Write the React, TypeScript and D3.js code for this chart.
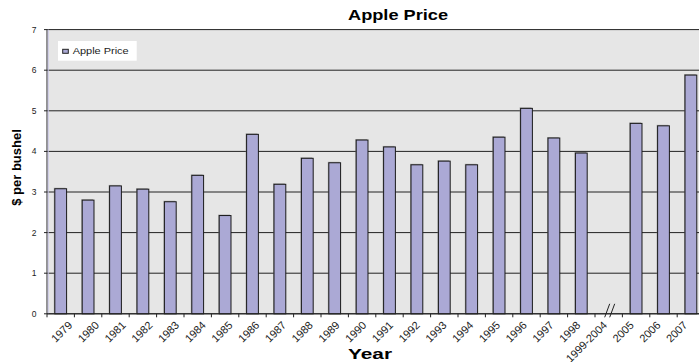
import React from "react";
import * as d3 from "d3";

const years = ["1979","1980","1981","1982","1983","1984","1985","1986","1987","1988","1989","1990","1991","1992","1993","1994","1995","1996","1997","1998","1999-2004","2005","2006","2007"];
const prices: (number | null)[] = [3.08,2.8,3.15,3.07,2.76,3.41,2.42,4.42,3.19,3.83,3.72,4.28,4.11,3.67,3.76,3.67,4.35,5.06,4.33,3.96,null,4.69,4.63,5.88];
const yTicks = [0,1,2,3,4,5,6,7];
const breakCategory = "1999-2004";
const title = "Apple Price";
const seriesName = "Apple Price";
const xTitle = "Year";
const yTitle = "$ per bushel";

const W = 699, H = 362;
const FONT = "'Liberation Sans', Arial, sans-serif";
const BAR = "#aba9d5";

export default function App() {
  const x = d3.scaleBand<string>().domain(years).range([47, 47 + 24 * 27.4]).paddingInner(0.57).paddingOuter(0.285);
  const xb = d3.scaleBand<string>().domain(years).range([47, 47 + 24 * 27.4]);
  const xl = d3.scalePoint<string>().domain(years).range([73, 688]);
  const y = d3.scaleLinear().domain([0, 7]).range([313.8, 29.6]);
  const left = 47, right = 47 + 24 * 27.4;
  const bc = (xb(breakCategory) as number) + xb.bandwidth() / 2;

  return (
    <svg width={W} height={H} style={{ position: "absolute", left: 0, top: 0 }} fontFamily={FONT}>
      <rect x={0} y={0} width={W} height={H} fill="#fff" />
      <rect x={left} y={y(7)} width={right - left} height={y(0) - y(7)} fill="#e6e6e6" />
      {yTicks.map(t => (
        <g key={t}>
          <line x1={left} x2={right} y1={y(t)} y2={y(t)} stroke="#222" strokeWidth={1} />
          <line x1={left - 3} x2={left} y1={y(t)} y2={y(t)} stroke="#222" />
          <text x={36.5} y={y(t)} dy="0.35em" textAnchor="end" fontSize={8.5} fill="#222">{t}</text>
        </g>
      ))}
      <line x1={left} x2={left} y1={y(7)} y2={y(0)} stroke="#222" />
      <line x1={left + 1.2} x2={left + 1.2} y1={y(7)} y2={y(0)} stroke="#c8c6e6" />
      {years.map((c, i) => {
        const v = prices[i];
        if (v == null) return null;
        const bx = x(c) as number;
        return (
          <g key={c}>
            <rect x={bx - 1} y={y(v) - 1} width={x.bandwidth()} height={y(0) - y(v)} fill="#777" opacity={0.55} />
            <rect x={bx} y={y(v)} width={x.bandwidth()} height={y(0) - y(v)} fill={BAR} stroke="#1a1a1a" strokeWidth={1} />
          </g>
        );
      })}
      {years.map(c => (
        <line key={"t" + c} x1={xb(c) as number} x2={xb(c) as number} y1={y(0)} y2={y(0) + 3.5} stroke="#222" />
      ))}
      <line x1={left} x2={right} y1={y(0)} y2={y(0)} stroke="#222" />
      <line x1={bc - 4} y1={y(0) + 3.5} x2={bc + 1} y2={y(0) - 10} stroke="#222" />
      <line x1={bc + 1} y1={y(0) + 3.5} x2={bc + 6} y2={y(0) - 10} stroke="#222" />
      {years.map(c => (
        <text key={"l" + c} transform={`translate(${xl(c)},${y(0) + 12}) rotate(-45)`} textAnchor="end" fontSize={11} fill="#222">{c}</text>
      ))}
      <text x={398} y={20} textAnchor="middle" fontSize={14} fontWeight="bold" textLength={100} lengthAdjust="spacingAndGlyphs">{title}</text>
      <text x={370} y={359} textAnchor="middle" fontSize={14} fontWeight="bold" textLength={44} lengthAdjust="spacingAndGlyphs">{xTitle}</text>
      <text transform={`translate(21,167.5) rotate(-90)`} textAnchor="middle" fontSize={13} fontWeight="bold">{yTitle}</text>
      <rect x={58} y={41} width={78.7} height={19.7} fill="#fff" />
      <rect x={62.7} y={49.3} width={5.6} height={4} fill={BAR} stroke="#222" strokeWidth={1} />
      <text x={72.7} y={54.3} fontSize={9} fill="#222" textLength={56} lengthAdjust="spacingAndGlyphs">{seriesName}</text>
    </svg>
  );
}
